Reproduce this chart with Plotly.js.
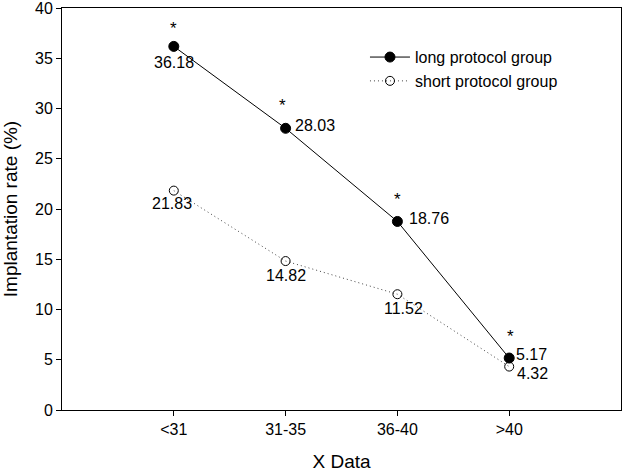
<!DOCTYPE html>
<html>
<head>
<meta charset="utf-8">
<script src="https://cdn.plot.ly/plotly-3.0.1.min.js"></script>
<style>html,body{margin:0;padding:0;background:#fff;}#chart{width:623px;height:472px;}</style>
</head>
<body>
<div id="chart"></div>
<script>
var categories = ["<31", "31-35", "36-40", ">40"];
var longValues = [36.18, 28.03, 18.76, 5.17];
var shortValues = [21.83, 14.82, 11.52, 4.32];
var longLabels = ["36.18", "28.03", "18.76", "5.17"];
var shortLabels = ["21.83", "14.82", "11.52", "4.32"];
var significance = ["*", "*", "*", "*"];

var FONT = "Liberation Sans, Arial, sans-serif";

var traces = [
  {
    x: categories, y: longValues, type: "scatter", mode: "lines+markers",
    name: "long protocol group",
    line: {color: "#000", width: 1},
    marker: {symbol: "circle", size: 10, color: "#000", line: {color: "#000", width: 1}}
  },
  {
    x: categories, y: shortValues, type: "scatter", mode: "lines+markers",
    name: "short protocol group",
    line: {color: "#444", width: 1, dash: "1px,3px"},
    marker: {symbol: "circle-open", size: 9, color: "#000", line: {color: "#000", width: 1}}
  }
];

// label offsets (pixels) per point
var longOffsets = [[0, -16], [29, 3], [32, 3], [22, 4]];
var shortOffsets = [[-2, -13], [0, -14], [6, -14], [23, -7]];
var starOffsets = [[0, 18], [-3, 23], [0, 22], [1, 22]];

var annotations = [];
categories.forEach(function (c, i) {
  annotations.push({x: c, y: longValues[i], text: longLabels[i], showarrow: false,
    xshift: longOffsets[i][0], yshift: longOffsets[i][1], font: {family: FONT, size: 16, color: "#000"}});
  annotations.push({x: c, y: shortValues[i], text: shortLabels[i], showarrow: false,
    xshift: shortOffsets[i][0], yshift: shortOffsets[i][1], font: {family: FONT, size: 16, color: "#000"}});
  annotations.push({x: c, y: longValues[i], text: significance[i], showarrow: false,
    xshift: starOffsets[i][0], yshift: starOffsets[i][1], font: {family: FONT, size: 17, color: "#000"}});
});

var layout = {
  width: 623, height: 472,
  margin: {l: 62, r: 2, t: 8, b: 62},
  paper_bgcolor: "#fff", plot_bgcolor: "#fff",
  font: {family: FONT, color: "#000", size: 16},
  showlegend: true,
  legend: {x: 0.542, y: 0.92, xanchor: "left", yanchor: "top", bgcolor: "rgba(0,0,0,0)",
    font: {family: FONT, size: 16, color: "#000"}, tracegroupgap: 0, itemwidth: 40},
  xaxis: {
    type: "category", range: [-1, 4],
    showgrid: false, zeroline: false,
    showline: true, linecolor: "#000", linewidth: 1, mirror: true,
    ticks: "outside", ticklen: 5, tickcolor: "#000",
    tickfont: {family: FONT, size: 16, color: "#000"},
    title: {text: "X Data", font: {family: FONT, size: 19, color: "#000"}, standoff: 20}
  },
  yaxis: {
    range: [0, 40], dtick: 5, tick0: 0,
    showgrid: false, zeroline: false,
    showline: true, linecolor: "#000", linewidth: 1, mirror: true,
    ticks: "outside", ticklen: 5, tickcolor: "#000",
    ticklabeloverflow: "allow",
    tickfont: {family: FONT, size: 16, color: "#000"},
    title: {text: "Implantation rate (%)", font: {family: FONT, size: 19, color: "#000"}, standoff: 12}
  },
  annotations: annotations
};

Plotly.newPlot("chart", traces, layout, {displayModeBar: false, staticPlot: true});
</script>
</body>
</html>
